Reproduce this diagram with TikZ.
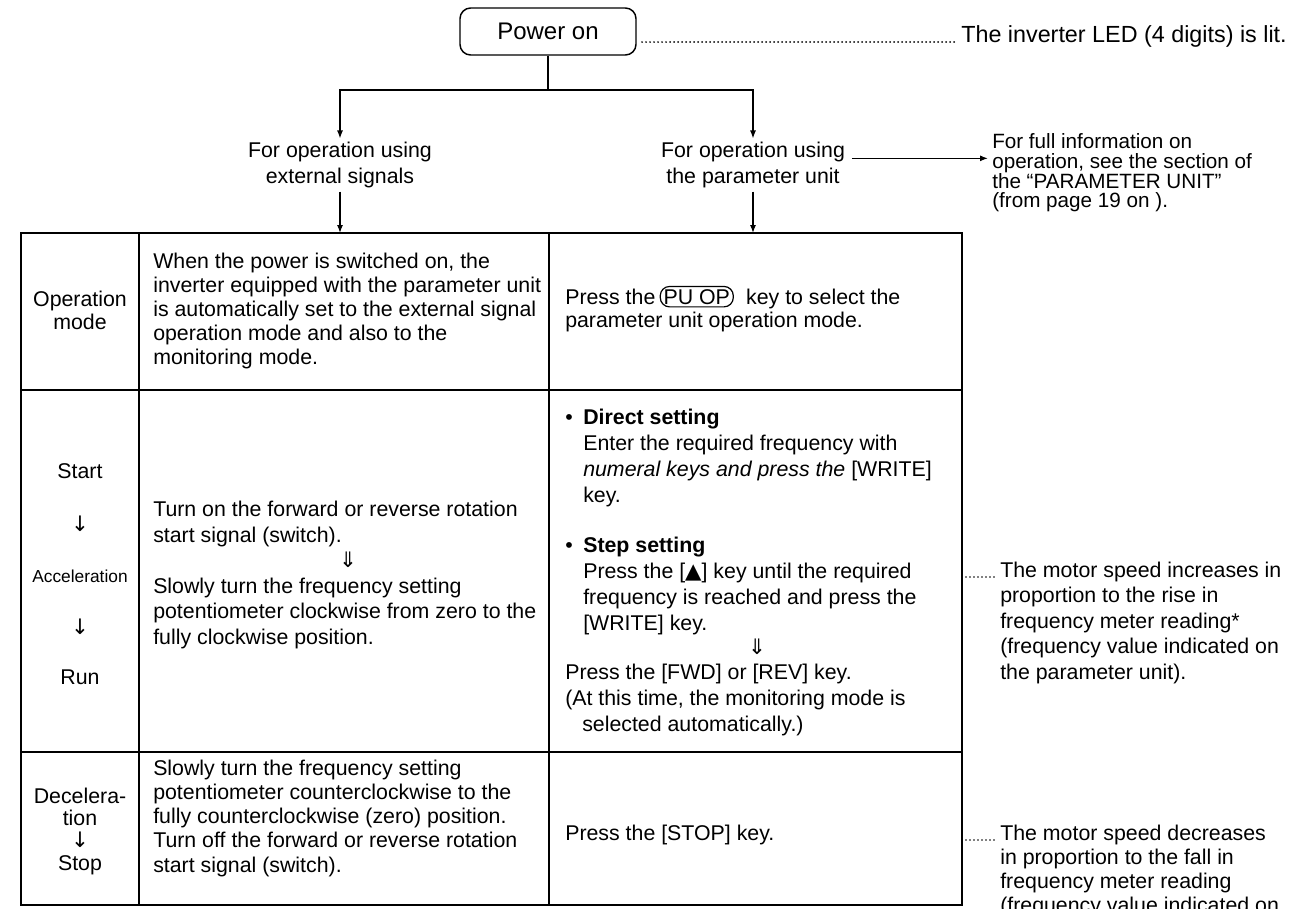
\documentclass[tikz,border=0pt]{standalone}
\usepackage{fontspec}
\setmainfont{Liberation Sans}
\newfontfamily\symfont{DejaVu Sans}
\usetikzlibrary{arrows.meta,calc}

\newcommand\cellfont{\fontsize{16}{19.5}\selectfont}
\newcommand\smallcellfont{\fontsize{13}{16}\selectfont}
\newcommand\powerfont{\fontsize{18}{22}\selectfont}
\newcommand\infofont{\fontsize{15.5}{14.8}\selectfont}
\newcommand\ledfont{\fontsize{17.5}{20}\selectfont}
\newcommand\darr{{\symfont ↓}}
\newcommand\ddarr{{\symfont ⇓}}
\newcommand\uptri{{\symfont ▲}}

\newcommand\txtlines[5]{%
  \foreach \ltext [count=\li] in {#5}{%
    \node[txt] (#1-\li) at (#2,{#3+(\li-1)*#4}) {\ltext};}}

\begin{document}
\begin{tikzpicture}[x=0.75pt,y=-0.75pt,
  txt/.style={anchor=base west, inner sep=0pt, font=\cellfont},
  txtc/.style={anchor=base, inner sep=0pt, font=\cellfont},
  lab/.style={align=center, font=\cellfont, inner xsep=2pt, inner ysep=2.5pt},
  tbl/.style={line width=1.2pt},
  conn/.style={line width=0.9pt},
  arr/.style={conn, -{Latex[length=6pt,width=4.5pt]}},
  leader/.style={line width=1.4pt, line cap=round, dash pattern=on 0pt off 3pt},
  keybox/.style={draw, rounded corners=7pt, line width=0.9pt, inner xsep=2.5pt, inner ysep=2pt, anchor=base west, font=\cellfont}]

\useasboundingbox (0,0) rectangle (1297,908);
\clip (0,0) rectangle (1297,908);

% ---- top: power on
\node[draw, line width=1.1pt, rounded corners=8pt, minimum width={176*0.75pt},
      minimum height={47*0.75pt}, font=\powerfont, inner sep=0pt] (power) at (548,31.5) {Power on};
\node[txt, anchor=base east, font=\ledfont] (led) at (1287,42) {The inverter LED (4 digits) is lit.};
\coordinate (ldA) at (power.east |- led.base);
\draw[leader] ([xshift=4pt]ldA) -- ([xshift=-3pt]led.base west);

% ---- branch
\coordinate (br) at (548,90);
\node[lab] (ext) at (340,165) {For operation using\\external signals};
\node[lab] (pu) at (753,165) {For operation using\\the parameter unit};
\draw[conn] (power.south) -- (br);
\draw[arr] (br) -| (ext.north);
\draw[arr] (br) -| (pu.north);

\node[anchor=west, align=left, font=\infofont, inner xsep=3pt, inner ysep=0pt] (info) at (988,173)
  {For full information on\\operation, see the section of\\the “PARAMETER UNIT”\\(from page 19 on ).};
\coordinate (arrs) at ([xshift=3pt,yshift=5pt]pu.east);
\draw[arr] (arrs) -- (arrs -| info.west);

% ---- table
\coordinate (tl) at (21,233);
\draw[tbl] (21,233) rectangle (962,905);
\draw[tbl] (139,233) -- (139,905);
\draw[tbl] (549,233) -- (549,905);
\draw[tbl] (21,390) -- (962,390);
\draw[tbl] (21,752) -- (962,752);

\draw[arr] (ext.south) -- (ext.south |- tl);
\draw[arr] (pu.south) -- (pu.south |- tl);

% row 1
\node[txtc] (om1) at (80,306) {Operation};
\node[txtc] (om2) at (80,329) {mode};
\txtlines{rA}{153}{268}{24}{{When the power is switched on, the},{inverter equipped with the parameter unit},{is automatically set to the external signal},{operation mode and also to the},{monitoring mode.}}
\node[txt] (pu1) at (565,304) {Press the};
\node[keybox] (puop) at ([xshift=3pt]pu1.base east) {PU OP};
\node[txt] (pu2) at ([xshift=9pt]puop.base east) {key to select the};
\node[txt] (pu3) at (565,327) {parameter unit operation mode.};

% row 2
\node[txtc] (s1) at (80,478) {Start};
\node[txtc] (s2) at (80,531) {\darr};
\node[txtc, font=\smallcellfont] (s3) at (80,582) {Acceleration};
\node[txtc] (s4) at (80,634) {\darr};
\node[txtc] (s5) at (80,684) {Run};

\txtlines{rB}{153}{516}{26}{{Turn on the forward or reverse rotation},{start signal (switch).}}
\node[txtc] (rBdd) at (348,567) {\ddarr};
\txtlines{rC}{153}{593}{25.5}{{Slowly turn the frequency setting},{potentiometer clockwise from zero to the},{fully clockwise position.}}

\node[txt] (b1) at (565,424) {•};
\txtlines{ds}{583}{424}{26}{{\textbf{Direct setting}},{Enter the required frequency with},{\textit{numeral keys and press the} [WRITE]},{key.}}
\node[txt] (b2) at (565,552) {•};
\txtlines{ss}{583}{552}{26}{{\textbf{Step setting}},{Press the [\uptri] key until the required},{frequency is reached and press the},{[WRITE] key.}}
\node[txtc] (ssdd) at (757,654) {\ddarr};
\txtlines{fw}{565}{679}{26}{{Press the [FWD] or [REV] key.},{(At this time, the monitoring mode is},{\hspace*{12.75pt}selected automatically.)}}

\txtlines{anA}{1000}{577}{25.5}{{The motor speed increases in},{proportion to the rise in},{frequency meter reading*},{(frequency value indicated on},{the parameter unit).}}
\coordinate (anAs) at (962,577);
\draw[leader] ([xshift=3pt]anAs) -- ([xshift=-3pt]anA-1.base west);

% row 3
\node[txtc] (d1) at (80,803) {Decelera-};
\node[txtc] (d2) at (80,825) {tion};
\node[txtc] (d3) at (80,847) {\darr};
\node[txtc] (d4) at (80,870) {Stop};
\txtlines{rD}{153}{775}{24.3}{{Slowly turn the frequency setting},{potentiometer counterclockwise to the},{fully counterclockwise (zero) position.},{Turn off the forward or reverse rotation},{start signal (switch).}}
\node[txt] (stop) at (565,840) {Press the [STOP] key.};

\txtlines{anB}{1000}{840}{24}{{The motor speed decreases},{in proportion to the fall in},{frequency meter reading},{(frequency value indicated on}}
\coordinate (anBs) at (962,840);
\draw[leader] ([xshift=3pt]anBs) -- ([xshift=-3pt]anB-1.base west);

\end{tikzpicture}
\end{document}
